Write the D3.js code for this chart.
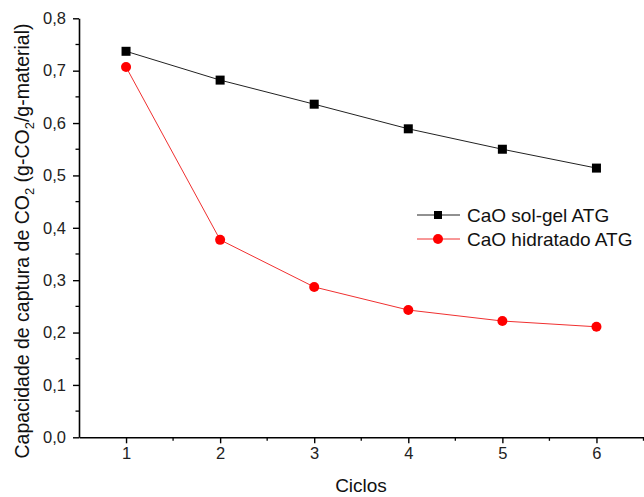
<!DOCTYPE html>
<html>
<head>
<meta charset="utf-8">
<script src="https://cdn.jsdelivr.net/npm/d3@7"></script>
<style>
  body { margin: 0; background: #fff; }
  text { font-family: "Liberation Sans", Arial, sans-serif; }
</style>
</head>
<body>
<svg id="chart" width="644" height="497"></svg>
<script>
const ciclos = [1, 2, 3, 4, 5, 6];
const solGel = [0.737, 0.682, 0.636, 0.589, 0.550, 0.514];
const hidratado = [0.707, 0.377, 0.287, 0.243, 0.222, 0.211];
const seriesNames = ["CaO sol-gel ATG", "CaO hidratado ATG"];
const yTicks = [0, 0.1, 0.2, 0.3, 0.4, 0.5, 0.6, 0.7, 0.8];

const svg = d3.select("#chart");
const x = d3.scaleLinear().domain([0.5, 6.5]).range([79, 643.5]);
const y = d3.scaleLinear().domain([0, 0.8]).range([437.3, 18.3]);

const fmt = d => d3.format(".1f")(d).replace(".", ",");

// minor ticks
const minorX = d3.range(1.5, 6.6, 1);
const minorY = d3.range(0.05, 0.8, 0.1);
svg.append("g").selectAll("line").data(minorX).enter().append("line")
  .attr("x1", d => x(d)).attr("x2", d => x(d))
  .attr("y1", y(0)).attr("y2", y(0) + 3.5)
  .attr("stroke", "#000").attr("stroke-width", 1.3);
svg.append("g").selectAll("line").data(minorY).enter().append("line")
  .attr("y1", d => y(d)).attr("y2", d => y(d))
  .attr("x1", x(0.5)).attr("x2", x(0.5) - 3.5)
  .attr("stroke", "#000").attr("stroke-width", 1.3);

const xAxis = svg.append("g")
  .attr("transform", `translate(0,${y(0)})`)
  .call(d3.axisBottom(x).tickValues(ciclos).tickSize(6).tickPadding(4).tickSizeOuter(0).tickFormat(d3.format("d")));
const yAxis = svg.append("g")
  .attr("transform", `translate(${x(0.5)},0)`)
  .call(d3.axisLeft(y).tickValues(yTicks).tickSize(6).tickPadding(7).tickSizeOuter(0).tickFormat(fmt));
[xAxis, yAxis].forEach(a => {
  a.attr("font-size", 16.5).attr("font-family", "'Liberation Sans', Arial, sans-serif");
  a.select(".domain").attr("stroke-width", 1.6);
  a.selectAll(".tick line").attr("stroke-width", 1.4);
  a.selectAll(".tick text").attr("fill", "#222");
});

// series lines
const line = vals => d3.line().x((d, i) => x(ciclos[i])).y(d => y(d))(vals);
svg.append("path").attr("d", line(solGel)).attr("fill", "none").attr("stroke", "#222").attr("stroke-width", 1);
svg.append("path").attr("d", line(hidratado)).attr("fill", "none").attr("stroke", "#f03030").attr("stroke-width", 1);

svg.append("g").selectAll("rect").data(solGel).enter().append("rect")
  .attr("x", (d, i) => x(ciclos[i]) - 4.5).attr("y", d => y(d) - 4.5)
  .attr("width", 9).attr("height", 9).attr("fill", "#000");
svg.append("g").selectAll("circle").data(hidratado).enter().append("circle")
  .attr("cx", (d, i) => x(ciclos[i])).attr("cy", d => y(d)).attr("r", 5)
  .attr("fill", "#ff0000");

// legend
const legend = svg.append("g");
const legColors = ["#222", "#f03030"];
seriesNames.forEach((name, i) => {
  const ly = 215 + i * 24;
  legend.append("line").attr("x1", 417).attr("x2", 460).attr("y1", ly).attr("y2", ly)
    .attr("stroke", legColors[i]).attr("stroke-width", 1);
  if (i === 0) {
    legend.append("rect").attr("x", 434).attr("y", ly - 4).attr("width", 8).attr("height", 8).attr("fill", "#000");
  } else {
    legend.append("circle").attr("cx", 438).attr("cy", ly).attr("r", 5).attr("fill", "#ff0000");
  }
  legend.append("text").attr("x", 467).attr("y", ly + 7).attr("font-size", 19).attr("fill", "#111").text(name);
});

// axis titles
svg.append("text").attr("x", 361).attr("y", 492).attr("text-anchor", "middle")
  .attr("font-size", 19).attr("fill", "#111").text("Ciclos");
const yt = svg.append("text").attr("transform", "translate(29,241) rotate(-90)")
  .attr("text-anchor", "middle").attr("font-size", 19.5).attr("fill", "#111");
yt.append("tspan").text("Capacidade de captura de CO");
yt.append("tspan").attr("font-size", 13).attr("dy", 5).text("2");
yt.append("tspan").attr("dy", -5).text(" (g-CO");
yt.append("tspan").attr("font-size", 13).attr("dy", 5).text("2");
yt.append("tspan").attr("dy", -5).text("/g-material)");
</script>
</body>
</html>
